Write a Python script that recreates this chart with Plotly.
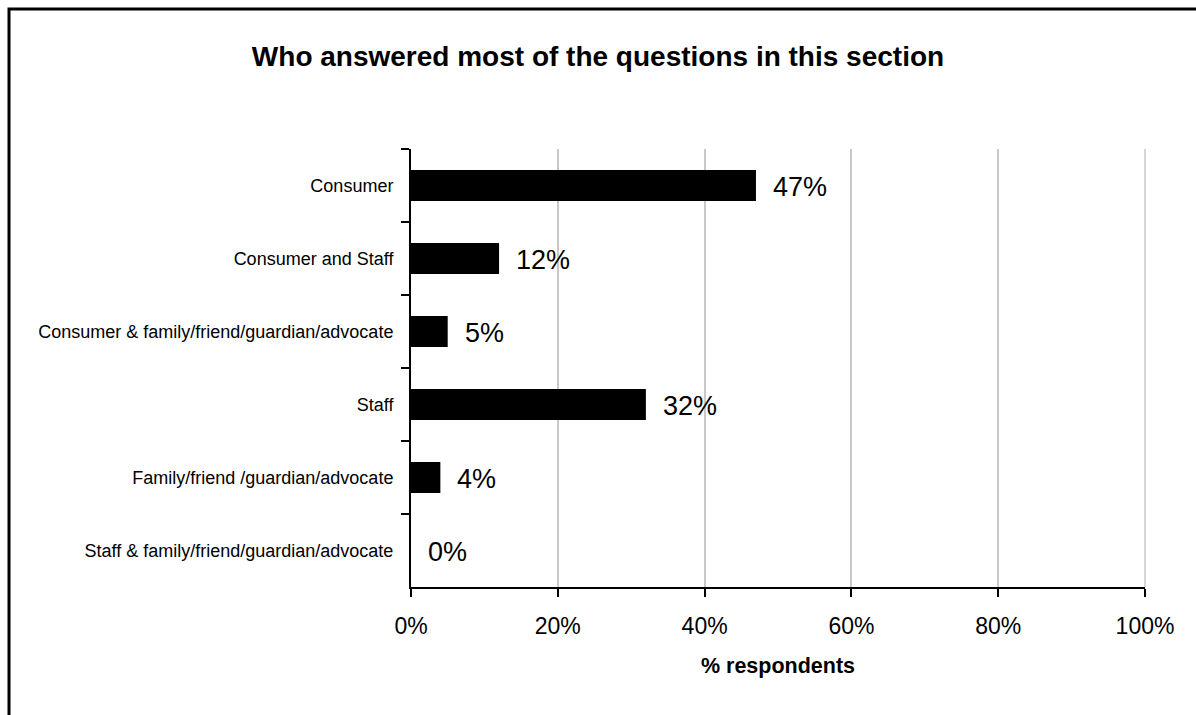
import plotly.graph_objects as go

# Respondent groups (top to bottom) and their share of answers, in percent
categories = [
    "Consumer",
    "Consumer and Staff",
    "Consumer & family/friend/guardian/advocate",
    "Staff",
    "Family/friend /guardian/advocate",
    "Staff & family/friend/guardian/advocate",
]
shares = [47, 12, 5, 32, 4, 0]
x_ticks = [0, 20, 40, 60, 80, 100]
x_tick_labels = ["0%", "20%", "40%", "60%", "80%", "100%"]

FONT = "Liberation Sans, Arial, sans-serif"
GRID = "#c8c8c8"

fig = go.Figure(
    go.Bar(
        x=shares,
        y=categories,
        orientation="h",
        marker=dict(color="black", line=dict(width=0)),
        hoverinfo="skip",
    )
)

# Value labels to the right of each bar
for cat, val in zip(categories, shares):
    fig.add_annotation(
        x=val, y=cat, text=f"{val}%", showarrow=False,
        xanchor="left", yanchor="middle", xshift=15, yshift=-1,
        font=dict(family=FONT, size=27, color="black"),
    )

# Gridline along the right edge of the plot area (the 100% line)
fig.add_shape(
    type="line", xref="paper", yref="paper",
    x0=1, x1=1, y0=0, y1=1,
    line=dict(color=GRID, width=1.5), layer="below",
)

# Outer frame (runs past the right and bottom edges)
fig.add_shape(
    type="rect", xref="paper", yref="paper",
    x0=-402 / 734, x1=1.2, y0=-0.5, y1=1 + 140 / 438,
    line=dict(color="black", width=3), fillcolor="rgba(0,0,0,0)", layer="below",
)

fig.update_layout(
    width=1196, height=715,
    margin=dict(l=411, r=51, t=149, b=128),
    paper_bgcolor="white", plot_bgcolor="white",
    showlegend=False,
    bargap=0.575,
    title=dict(
        text="<b>Who answered most of the questions in this section</b>",
        x=0.5, xref="container", xanchor="center",
        y=1 - 56 / 715, yref="container", yanchor="middle",
        font=dict(family=FONT, size=28, color="black"),
    ),
    font=dict(family=FONT, color="black"),
    xaxis=dict(
        range=[0, 100], tickvals=x_ticks, ticktext=x_tick_labels,
        showgrid=True, gridcolor=GRID, gridwidth=1.5,
        zeroline=False,
        showline=True, linecolor="black", linewidth=2,
        ticks="outside", ticklen=8, tickwidth=2, tickcolor="black",
        ticklabelstandoff=9,
        tickfont=dict(family=FONT, size=23, color="black"),
        title=dict(text="<b>% respondents</b>", standoff=20,
                   font=dict(family=FONT, size=21.5, color="black")),
    ),
    yaxis=dict(
        autorange="reversed",
        showgrid=False, zeroline=False,
        showline=True, linecolor="black", linewidth=2,
        ticks="outside", ticklen=8, tickwidth=2, tickcolor="black",
        tickson="boundaries", ticklabelstandoff=12,
        tickfont=dict(family=FONT, size=18, color="black"),
    ),
)

fig.write_html("out.html")
